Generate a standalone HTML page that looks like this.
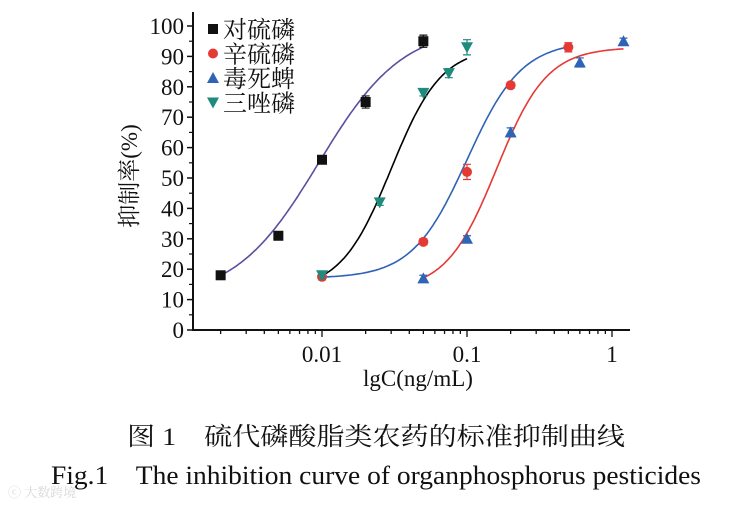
<!DOCTYPE html>
<html><head><meta charset="utf-8"><style>
html,body{margin:0;padding:0;background:#fff;}
svg{display:block;}
text{font-family:"Liberation Serif","Noto Serif CJK SC",serif;fill:#111;}
</style></head><body>
<svg id="chart" width="749" height="507" viewBox="0 0 749 507">
<g id="axes"></g>
<g id="series"></g>
<g id="legend"></g>
<text x="137" y="176" font-size="23" text-anchor="middle" transform="rotate(-90 137 176)">抑制率(%)</text>
<text x="418" y="386" font-size="23" text-anchor="middle">lgC(ng/mL)</text>
<text x="127" y="445" font-size="25" textLength="498" lengthAdjust="spacingAndGlyphs">图 1　硫代磷酸脂类农药的标准抑制曲线</text>
<text x="51" y="484" font-size="26" textLength="650" lengthAdjust="spacingAndGlyphs">Fig.1　The inhibition curve of organphosphorus pesticides</text>
<text x="8" y="497" font-size="13" style="fill:#d8d8d8">ⓒ 大数跨境</text>
</svg>
<script>
// ---- data ----
const seriesNames = ["对硫磷","辛硫磷","毒死蜱","三唑磷"];
const xTickValues = [0.01, 0.1, 1];
const xTickLabels = ["0.01","0.1","1"];
const yTickValues = [0,10,20,30,40,50,60,70,80,90,100];
const s1x = [0.002,0.005,0.01,0.02,0.05];
const s1y = [18,31,56,75,95];
const s2x = [0.01,0.05,0.1,0.2,0.5];
const s2y = [17.5,29,52,80.5,93];
const s3x = [0.05,0.1,0.2,0.6,1.2];
const s3y = [17,30,65,88,95];
const s4x = [0.01,0.025,0.05,0.075,0.1];
const s4y = [18,42,78,84.5,93];
const s1err = [1,1,1,2,2];
const s2err = [1,1,2.5,1,1.5];
const s3err = [1,1,1.5,1.5,1];
const s4err = [1,1,1,1.5,2.5];
// 4PL fit params: bottom, top, ec50, hill, xmin, xmax
const fit1 = [10,100,0.0095,1.5,0.002,0.05];
const fit2 = [17,95,0.1,2.3,0.01,0.5];
const fit3 = [13,93,0.16,2.5,0.05,1.2];
const fit4 = [13,93,0.03,2.5,0.01,0.1];

const NS="http://www.w3.org/2000/svg";
const X0=193, XR=630, YB=330, YT=12;
const xs = v => 322 + (Math.log10(v)+2)*145;
const ys = v => YB - v*3.04;
function mk(tag, attrs, parent){const e=document.createElementNS(NS,tag);for(const k in attrs)e.setAttribute(k,attrs[k]);parent.appendChild(e);return e;}
const axes=document.getElementById('axes');
let a=mk('line',{x1:X0,y1:YT,x2:X0,y2:YB,stroke:'#111','stroke-width':2},axes);


a=mk('line',{x1:X0-1,y1:YB,x2:XR,y2:YB,stroke:'#111','stroke-width':2},axes);


yTickValues.forEach(v=>{
  const t=mk('line',{x1:X0-6,y1:ys(v),x2:X0,y2:ys(v),stroke:'#111','stroke-width':1.5},axes);
  
  
  if(v<100){const m=mk('line',{x1:X0-4,y1:ys(v+5),x2:X0,y2:ys(v+5),stroke:'#111','stroke-width':1.2},axes);
  
  }
  const l=mk('text',{x:X0-9,y:ys(v)+8,'font-size':23,'text-anchor':'end'},axes);l.textContent=v;
  
  
});
for(let d=-3;d<=0;d++){for(let k=1;k<10;k++){const v=k*Math.pow(10,d);const x=xs(v);if(x<X0+2||x>XR)continue;
  const t=mk('line',{x1:x,y1:YB,x2:x,y2:YB+(k==1?7:4),stroke:'#111','stroke-width':1.3},axes);
  
  }}
xTickValues.forEach((v,i)=>{const l=mk('text',{x:xs(v),y:YB+32,'font-size':23,'text-anchor':'middle'},axes);l.textContent=xTickLabels[i];
  
  });

const ser=document.getElementById('series');
function curve(f,color,name){let d='';for(let i=0;i<=120;i++){const lx=Math.log10(f[4])+(Math.log10(f[5])-Math.log10(f[4]))*i/120;const x=Math.pow(10,lx);
  const y=f[0]+(f[1]-f[0])/(1+Math.pow(f[2]/x,f[3]));d+=(i?'L':'M')+xs(x).toFixed(1)+','+ys(y).toFixed(1);}
  const p=mk('path',{d:d,fill:'none',stroke:color,'stroke-width':1.6},ser);
  
  }
curve(fit1,'#5a4fa0','curve-parathion');
curve(fit2,'#2e63b5','curve-phoxim');
curve(fit3,'#e53935','curve-chlorpyrifos');
curve(fit4,'#000','curve-triazophos');
function marker(type,x,y,color,g){const s=5;
  if(type==0)return mk('rect',{x:x-s,y:y-s,width:2*s,height:2*s,fill:color},g);
  if(type==1)return mk('circle',{cx:x,cy:y,r:s,fill:color},g);
  if(type==2)return mk('polygon',{points:`${x},${y-s-1} ${x-s-1},${y+s} ${x+s+1},${y+s}`,fill:color},g);
  return mk('polygon',{points:`${x},${y+s+1} ${x-s-1},${y-s} ${x+s+1},${y-s}`,fill:color},g);}
const colors=['#111','#e53935','#2e63b5','#1f8a7d'];
const allX=[s1x,s2x,s3x,s4x],allY=[s1y,s2y,s3y,s4y],allE=[s1err,s2err,s3err,s4err];
allX.forEach((xa,si)=>{xa.forEach((v,i)=>{const x=xs(v),y=ys(allY[si][i]),e=allE[si][i]*3.04;
  const eb=mk('path',{d:`M${x},${y-e}V${y+e}M${x-4},${y-e}H${x+4}M${x-4},${y+e}H${x+4}`,stroke:colors[si],'stroke-width':1.2,fill:'none'},ser);
  
  
  const m=marker(si,x,y,colors[si],ser);
  
  });});
const leg=document.getElementById('legend');
seriesNames.forEach((n,i)=>{const y=29+i*24.5;
  const m=marker(i,213,y,colors[i],leg);
  
  
  const t=mk('text',{x:223,y:y+9,'font-size':24},leg);t.textContent=n;
  
  });
</script>
</body></html>
